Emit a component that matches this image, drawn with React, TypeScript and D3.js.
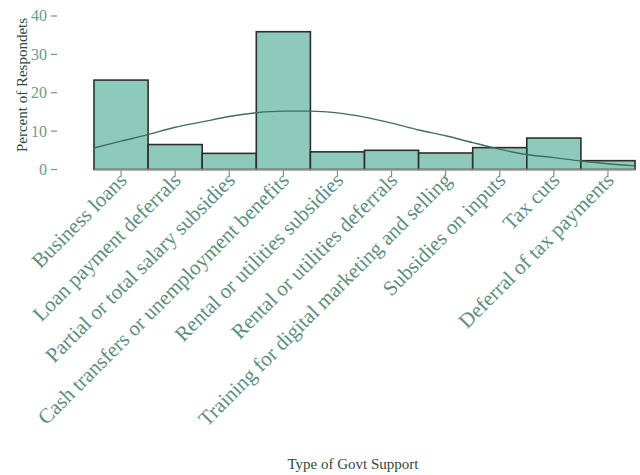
import React from "react";
import * as d3 from "d3";

const categories = [
  "Business loans",
  "Loan payment deferrals",
  "Partial or total salary subsidies",
  "Cash transfers or unemployment benefits",
  "Rental or utilities subsidies",
  "Rental or utilities deferrals",
  "Training for digital marketing and selling",
  "Subsidies on inputs",
  "Tax cuts",
  "Deferral of tax payments",
];
const percents = [23.3, 6.5, 4.2, 35.9, 4.6, 5.0, 4.3, 5.7, 8.2, 2.3];
const yTicks = [0, 10, 20, 30, 40];
// fitted curve, sampled every half category (position in category units, value in %)
const curvePos = [0, 0.5, 1, 1.5, 2, 2.5, 3, 3.5, 4, 4.5, 5, 5.5, 6, 6.5, 7, 7.5, 8, 8.5, 9, 9.5, 10];
const curveVal = [5.6, 7.4, 9.1, 11.0, 12.4, 13.8, 14.8, 15.2, 15.2, 14.75, 13.65, 12.1, 10.3, 8.8, 7.0, 5.3, 3.9, 3.1, 2.2, 1.5, 0.95];

const W = 640, H = 475;
const left = 94, right = 635, top = 16, bottom = 169.5;
const FONT = "Liberation Serif, DejaVu Serif, serif";

export default function App() {
  const x = d3.scaleBand<string>().domain(categories).range([left, right]).paddingInner(0).paddingOuter(0);
  const xu = d3.scaleLinear().domain([0, categories.length]).range([left, right]);
  const y = d3.scaleLinear().domain([0, 40]).range([bottom, top]);
  const line = d3
    .line<number>()
    .x((_, i) => xu(curvePos[i]))
    .y((d) => y(d))
    .curve(d3.curveMonotoneX);
  const tickColor = "#6f998b";
  return (
    <div style={{ position: "absolute", left: 0, top: 0 }}>
      <svg width={W} height={H} style={{ display: "block" }}>
        <rect x={0} y={0} width={W} height={H} fill="#ffffff" />
        {categories.map((c, i) => (
          <rect
            key={c}
            x={x(c)!}
            y={y(percents[i])}
            width={x.bandwidth()}
            height={y(0) - y(percents[i])}
            fill="#8ecabb"
            stroke="#2e2e2e"
            strokeWidth={1.6}
          />
        ))}
        <path d={line(curveVal) || ""} fill="none" stroke="#3f6e61" strokeWidth={1.4} />
        <line x1={left} x2={right} y1={bottom} y2={bottom} stroke="#8a8a8a" strokeWidth={1.5} />
        {yTicks.map((t) => (
          <g key={t} transform={`translate(0,${y(t)})`}>
            <line x1={51} x2={57} stroke={tickColor} strokeWidth={1.2} />
            <text x={47} dy="0.34em" textAnchor="end" fontSize={16} fontFamily={FONT} fill={tickColor}>
              {t}
            </text>
          </g>
        ))}
        {categories.map((c) => {
          const cx = x(c)! + x.bandwidth() / 2;
          return (
            <g key={c}>
              <line x1={cx} x2={cx} y1={bottom + 1} y2={bottom + 7} stroke={tickColor} strokeWidth={1.2} />
              <text
                transform={`translate(${cx + 7},${bottom + 12}) rotate(-45)`}
                textAnchor="end"
                fontSize={21}
                fontFamily={FONT}
                fill="#5e8d7f"
              >
                {c}
              </text>
            </g>
          );
        })}
        <text
          transform={`translate(27,85) rotate(-90)`}
          textAnchor="middle"
          fontSize={15}
          fontFamily={FONT}
          fill="#2f4a42"
        >
          Percent of Respondets
        </text>
        <text x={353} y={469} textAnchor="middle" fontSize={15} fontFamily={FONT} fill="#2f4a42">
          Type of Govt Support
        </text>
      </svg>
    </div>
  );
}
